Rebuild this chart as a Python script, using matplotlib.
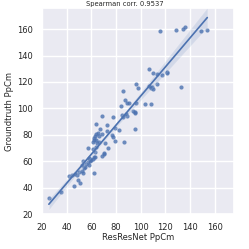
import numpy as np
import pandas as pd
import matplotlib
matplotlib.use("Agg")
import matplotlib.pyplot as plt
import seaborn as sns

# predicted vs groundtruth pixels-per-cm
pred = [116, 128.5, 134, 136, 148.5, 154,
        106.5, 110, 113, 117, 121.5, 121.5,
        133, 96.5, 97.5, 86,
        107, 109, 110, 113, 108,
        84, 87, 88.5, 90.5, 96.5, 103.5, 108,
        85, 86, 88, 89, 93.5, 95, 95.5,
        69, 77.5, 64, 73,
        25.5, 35.5, 42, 45.5, 51, 49.5, 48, 44.5, 47, 50, 52, 53, 54, 55,
        52.5, 53, 56, 57.5, 58, 59, 60, 58, 61, 62, 63, 62.5,
        57, 61, 61, 62, 62, 63, 64, 65, 63.5, 66, 64.5, 66, 67, 69,
        72.5, 77, 77.5, 79, 82, 79, 86.5, 95,
        73.5, 71, 70, 69, 70.5, 64, 63, 59]
truth = [158.2, 159.2, 160, 161.3, 158.7, 159,
         129.5, 126.8, 126, 125.2, 127.7, 126.5,
         116, 118.8, 115.4, 113.1,
         117, 116, 114.4, 118.4, 115.5,
         101.6, 106.2, 104.4, 103.8, 103.9, 103.2, 103,
         95, 93.6, 95.5, 94.2, 98, 97, 96.6,
         94.4, 93.7, 88.3, 87.2,
         32.2, 36.5, 49.1, 41.5, 43.5, 46, 49.8, 49.5, 50.6, 52, 53, 51.4, 55, 56,
         57, 60.6, 58, 59.6, 57.5, 60, 61, 62.5, 62, 63, 63.5, 51.5,
         70, 69.5, 75, 76.5, 78, 79, 80.5, 81.3, 76, 75, 74, 79, 84.5, 80.5,
         83, 80, 78.7, 85.5, 84, 75.5, 74.5, 84.4,
         70, 73.7, 65.4, 64.4, 66.2, 71, 67.3, 61.5]

df = pd.DataFrame({'ResResNet PpCm': pred, 'Groundtruth PpCm': truth})

sns.set_theme(style='darkgrid')
plt.rcParams['font.family'] = ['DejaVu Sans']

fig = plt.figure(figsize=(2.49, 2.49), dpi=100)
ax = fig.add_axes([0.169, 0.1394, 0.77, 0.829])
sns.regplot(data=df, x='ResResNet PpCm', y='Groundtruth PpCm', ax=ax,
            scatter_kws={'s': 9, 'linewidths': 0},
            line_kws={'linewidth': 1.2}, seed=0)
ax.set_xlim(20, 175.5)
ax.set_ylim(20, 176)
ax.set_xticks([20, 40, 60, 80, 100, 120, 140, 160])
ax.set_yticks([20, 40, 60, 80, 100, 120, 140, 160])
ax.tick_params(labelsize=6, pad=0.5, colors='.15')
ax.set_xlabel('ResResNet PpCm', fontsize=6, labelpad=0.5, color='.15')
ax.set_ylabel('Groundtruth PpCm', fontsize=6, labelpad=2, color='.15')
fig.suptitle('Spearman corr. 0.9537', fontsize=4.9, y=0.995, color='.15')

fig.savefig('out.png', dpi=100)
